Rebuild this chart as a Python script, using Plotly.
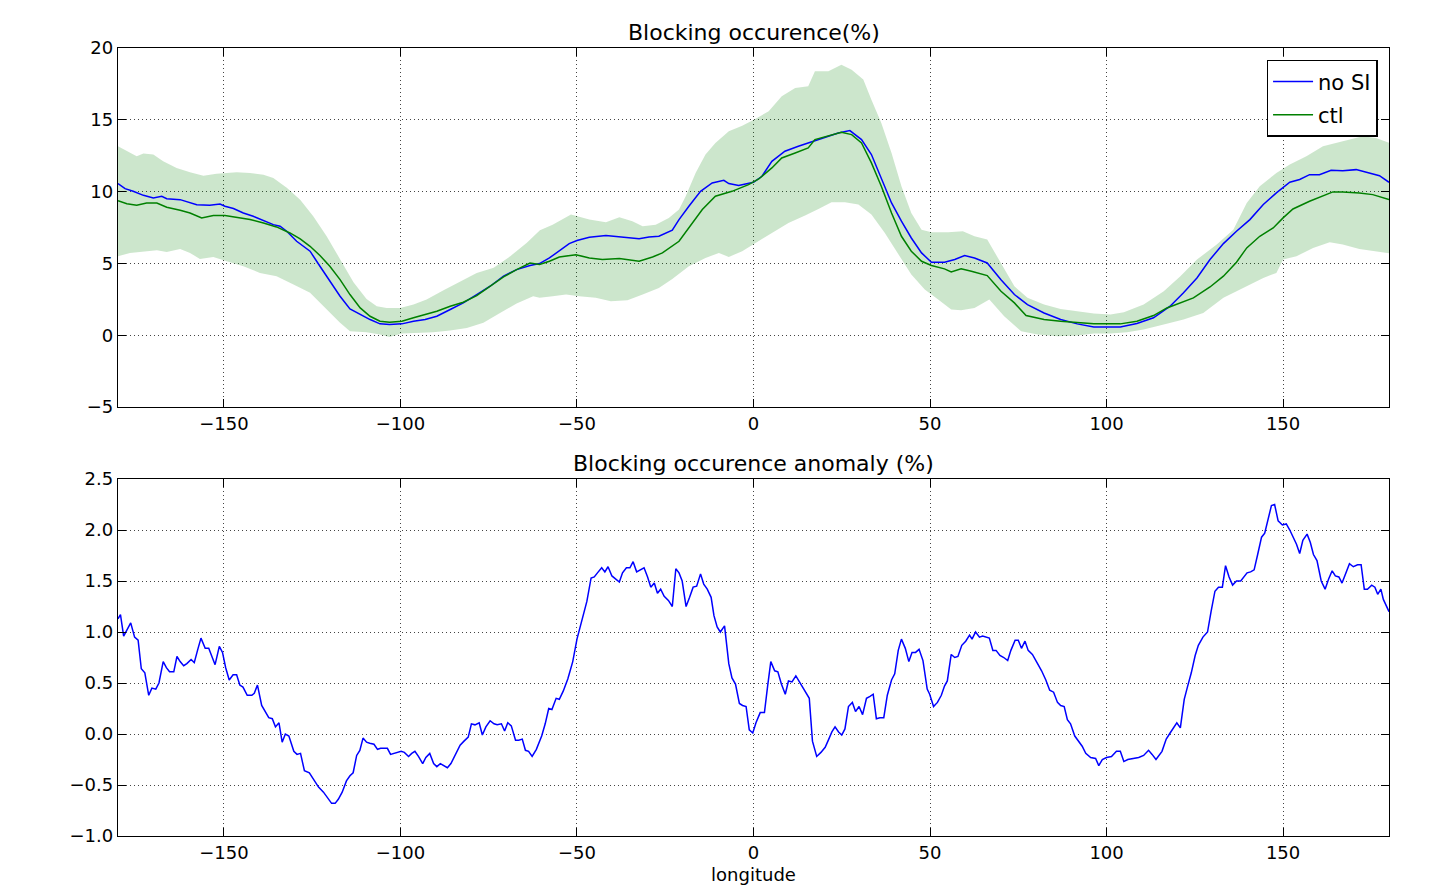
import plotly.graph_objects as go
from plotly.subplots import make_subplots

# ---------------- data: top panel ----------------
noSI_lon = [-180, -178, -175.7, -172.8, -170, -167.6, -166.2, -162.4, -157.7, -154, -151.1, -149.7, -147.3, -144.5,
            -141.7, -138.8, -136, -134.1, -132.2, -129.4, -125.6, -122.8, -120, -117.1, -114.3, -111.4, -108.6,
            -105.8, -103.1, -99.6, -96.3, -93, -89.7, -85.9, -82.2, -78.4, -74.6, -70.8, -67.1, -63.3, -60.6,
            -57.8, -55, -52.2, -50, -46.5, -41.8, -37.1, -32.4, -29.6, -26.8, -23, -21.1, -18.3, -15, -11.7,
            -8.4, -7, -4.2, 0, 2.4, 5.2, 8.9, 12.7, 16.4, 20.3, 24, 27.3, 30.6, 33.4, 36.2, 39.1, 41.9, 44.7,
            47.6, 50.4, 54.1, 57, 59.8, 62.6, 66.2, 70.1, 73.9, 77.6, 82.3, 87, 91.7, 96.4, 100, 103.9, 108.6,
            113.3, 118, 121.8, 125.6, 129.3, 133.1, 136.8, 140.6, 144.4, 148.1, 151.9, 154.7, 157.5, 160.3,
            163.6, 166.9, 170.7, 174.4, 177.3, 180]
noSI_val = [10.56, 10.21, 10.02, 9.74, 9.56, 9.67, 9.51, 9.44, 9.09, 9.05, 9.14, 8.98, 8.82, 8.51,
            8.28, 8.00, 7.70, 7.59, 7.24, 6.54, 5.85, 4.80, 3.76, 2.71, 1.83, 1.44, 1.09,
            0.79, 0.74, 0.79, 0.97, 1.09, 1.32, 1.79, 2.25, 2.83, 3.41, 4.11, 4.57, 4.85, 4.99,
            5.38, 5.85, 6.38, 6.59, 6.82, 6.94, 6.84, 6.71, 6.84, 6.89, 7.31, 8.05, 8.98, 10.02, 10.60,
            10.79, 10.56, 10.42, 10.65, 11.07, 12.11, 12.81, 13.16, 13.46, 13.74, 14.08, 14.25, 13.62, 12.58,
            10.95, 9.21, 7.94, 6.77, 5.73, 5.08, 5.08, 5.27, 5.55, 5.38, 5.03, 3.87, 2.83, 2.13, 1.55, 1.09,
            0.79, 0.58, 0.58, 0.58, 0.81, 1.21, 2.02, 2.95, 3.99, 5.27, 6.38, 7.24, 8.05, 9.10, 9.91, 10.65,
            10.84, 11.18, 11.18, 11.48, 11.46, 11.53, 11.30, 11.11, 10.65]

ctl_lon = [-180, -177.5, -174.7, -171.9, -169, -166.2, -162.4, -159.6, -156.3, -153, -149.7, -146.4, -142.6,
           -138.8, -135.1, -131.3, -128.4, -125.6, -122.8, -120, -117.1, -114.3, -111.4, -108.6, -105.8,
           -103.1, -99.6, -96.3, -93, -89.7, -85.9, -82.2, -78.4, -74.6, -70.8, -67.1, -63.3, -60.6, -57.8,
           -55, -50.3, -46.5, -42.8, -38, -32.4, -28.6, -25.8, -21.1, -18.3, -14.5, -10.8, -6.1, -1.4, 1.5,
           5.2, 8, 11.8, 15.5, 17.4, 21.2, 24.9, 27.8, 30.6, 33.4, 36.2, 39.1, 41.9, 44.7, 47.6, 50.4, 54.1,
           56, 58.8, 61.7, 66.2, 70.1, 73.9, 77.2, 82.3, 87, 91.7, 96.4, 100, 103.9, 108.6, 113.3, 117.1,
           120.9, 124.6, 129.3, 133.1, 136.8, 139.7, 143.4, 147.2, 150, 152.8, 157.5, 161.3, 164.1, 166.9,
           171.6, 175.4, 180]
ctl_val = [9.37, 9.16, 9.05, 9.21, 9.21, 8.91, 8.70, 8.51, 8.17, 8.33, 8.33, 8.21, 8.05,
           7.82, 7.54, 7.12, 6.71, 6.19, 5.55, 4.80, 3.87, 2.83, 1.90, 1.32, 0.97,
           0.90, 0.97, 1.21, 1.44, 1.67, 2.02, 2.30, 2.76, 3.41, 4.06, 4.57, 5.03, 4.92, 5.15,
           5.45, 5.61, 5.38, 5.27, 5.34, 5.15, 5.45, 5.73, 6.54, 7.47, 8.75, 9.68, 10.02, 10.49, 10.88,
           11.65, 12.34, 12.69, 13.04, 13.62, 13.90, 14.13, 13.97, 13.39, 12.00, 10.37, 8.51, 6.89, 5.85, 5.15,
           4.85, 4.62, 4.41, 4.62, 4.45, 4.15, 3.06, 2.25, 1.37, 1.09, 0.97, 0.86, 0.79, 0.79, 0.79, 0.97,
           1.37, 1.90, 2.25, 2.60, 3.36, 4.11, 5.08, 6.08, 6.89, 7.47, 8.17, 8.79, 9.33, 9.68, 9.98, 9.98,
           9.91, 9.79, 9.45]

band_up_lon = [-180, -177.5, -174.7, -172.8, -170, -167.2, -163.4, -159.6, -155.8, -152.1, -149.2, -146.4,
               -142.6, -138.8, -136, -132.2, -128.4, -124.7, -120.9, -117.1, -113.3, -109.6, -106.7, -103.9,
               -100.1, -96.3, -92.6, -87.8, -83.1, -78.4, -73.6, -68.9, -64.2, -60.5, -56.9, -51.7, -46.5,
               -41.8, -38, -34.3, -31.4, -27.7, -24, -21.1, -19.2, -16.4, -13.6, -10.8, -7, -3.2, 0.5, 4.3, 8,
               11.8, 15.5, 17.4, 21.2, 24.9, 27.8, 31.1, 33.4, 36.2, 39.1, 41.9, 44.7, 47.6, 50.4, 55.1, 59.3,
               62.6, 66.2, 70.1, 73.9, 77.6, 82.3, 87, 91.7, 96.4, 101.1, 104.9, 110.5, 116.2, 120.9, 125.6,
               131.2, 135.9, 139.7, 143.4, 148.1, 151.9, 156.6, 161.3, 166.9, 172.6, 176.3, 180]
band_up_val = [13.16, 12.85, 12.46, 12.65, 12.58, 12.11, 11.65, 11.35, 11.11, 11.25, 11.30, 11.35,
               11.30, 11.18, 10.95, 10.26, 9.44, 8.28, 6.89, 5.27, 3.69, 2.53, 2.02, 1.90,
               1.90, 2.13, 2.48, 3.13, 3.76, 4.34, 4.69, 5.50, 6.43, 7.31, 7.70, 8.40, 8.05,
               7.87, 8.21, 7.94, 7.59, 7.70, 8.17, 8.75, 9.68, 11.30, 12.58, 13.39, 14.20, 14.59, 15.06, 15.59,
               16.64, 17.22, 17.33, 18.38, 18.38, 18.84, 18.49, 17.80, 16.40, 14.78, 12.69, 10.37, 8.51, 7.35,
               7.17, 7.17, 7.24, 6.89, 6.66, 5.03, 3.41, 2.60, 2.13, 1.83, 1.67, 1.51, 1.44, 1.60, 2.13, 3.06,
               4.11, 5.27, 6.31, 7.35, 9.21, 10.37, 11.30, 11.88, 12.46, 13.16, 13.50, 13.85, 13.74, 13.40]

band_lo_lon = [-180, -176.6, -172.8, -169, -166.2, -162.4, -159.6, -156.8, -153, -149.2, -144.5, -139.8,
               -135.1, -130.3, -125.6, -120.9, -117.1, -114.3, -109.6, -105.8, -103.1, -99.6, -95.4, -90.7,
               -85.9, -81.2, -76.5, -71.8, -67.1, -62.4, -60.6, -56.9, -53.1, -49.4, -44.7, -40.4, -35.7,
               -31.4, -26.8, -23, -18.3, -13.6, -9.8, -7, -3.2, 0.5, 5.2, 9.9, 14.6, 18.4, 22.1, 25.9, 29.7,
               33.4, 37.2, 41, 44.7, 48.5, 52.3, 56, 58.8, 62.6, 66.8, 71, 75.8, 80.5, 86.1, 91.7, 96.4, 101.1,
               105.8, 110.5, 116.2, 121.8, 127.4, 133.1, 138.7, 144.4, 148.1, 150, 153.8, 158.5, 163.2, 166.9,
               171.6, 176.3, 180]
band_lo_val = [5.50, 5.73, 5.85, 5.92, 5.80, 6.01, 5.73, 5.31, 5.45, 5.15, 4.80, 4.34,
               4.11, 3.53, 2.95, 1.79, 0.86, 0.28, 0.21, 0.05, -0.12, 0.12, 0.16, 0.21,
               0.32, 0.51, 0.86, 1.55, 2.20, 2.71, 2.60, 2.71, 2.83, 2.71, 2.60, 2.37, 2.44,
               2.83, 3.29, 3.92, 4.80, 5.38, 5.73, 5.45, 5.85, 6.43, 7.12, 7.82, 8.33, 8.79, 9.26, 9.26, 9.10,
               8.40, 7.12, 5.61, 4.22, 3.18, 2.48, 1.79, 1.74, 1.90, 2.48, 1.32, 0.28, 0.05, -0.07, -0.02, 0.12,
               0.12, 0.21, 0.39, 0.74, 1.09, 1.55, 2.60, 3.29, 3.99, 4.34, 5.27, 5.50, 6.08, 6.47, 6.31,
               6.01, 5.85, 5.70]

# ---------------- data: bottom panel (anomaly) ----------------
anom_lon = [-180, -179.3, -178.4, -176.4, -175.3, -174.3, -173.4, -172.4, -171.3, -170.4, -169.3, -168.4,
            -167.2, -166.3, -165.4, -164.2, -163.3, -162.4, -161.4, -160.5, -159.3, -158.4, -157.4, -156.5,
            -155.3, -154.3, -153.4, -152.5, -151.3, -150.4, -149.5, -148.5, -147.4, -146.4, -145.5, -144.6,
            -143.4, -142.1, -141.4, -140.5, -139.3, -138.2, -137.3, -136.3, -135.4, -134.4, -133.5, -132.6,
            -131.6, -130.2, -129.3, -128.3, -127.2, -125.8, -124.6, -123.2, -121.8, -120.4, -119.5, -118.5,
            -117.6, -116.5, -115.3, -114.3, -113.4, -112.4, -111.5, -110.6, -109.6, -108.7, -107.5, -106.5,
            -105.6, -104.7, -103.7, -102.8, -101.7, -100.8, -99.8, -98.9, -97.7, -96.8, -95.9, -94.9, -93.7,
            -92.8, -91.7, -90.6, -89.7, -88.7, -87.6, -86.7, -85.7, -84.3, -83.1, -82.0, -80.8, -79.9, -78.9,
            -77.7, -76.8, -75.8, -74.6, -73.5, -72.6, -71.4, -70.5, -69.6, -68.6, -67.4, -66.5, -65.5, -64.6,
            -63.7, -62.7, -61.5, -60.0, -59.0, -58.0, -57.1, -55.9, -55.0, -53.9, -52.6, -51.2, -50.0, -48.6,
            -47.2, -46.0, -45.1, -44.2, -43.0, -42.1, -41.2, -40.1, -39.0, -38.0, -37.1, -36.0, -35.0, -34.1,
            -33.1, -31.9, -31.0, -30.0, -29.1, -28.1, -27.2, -26.3, -25.3, -24.1, -23.0, -22.0, -21.1, -20.2,
            -19.1, -18.1, -17.1, -16.1, -15.0, -14.1, -13.1, -12.0, -11.2, -10.3, -9.4, -8.2, -7.0, -6.1,
            -5.1, -4.0, -3.1, -2.1, -1.2, -0.2, 0.7, 1.9, 3.1, 4.0, 4.9, 6.0, 6.9, 7.9, 9.0, 9.9, 10.9, 12.0,
            13.1, 14.2, 15.8, 16.7, 17.9, 19.1, 20.3, 21.2, 22.2, 23.1, 24.1, 25.0, 25.9, 26.9, 28.0, 28.9,
            29.9, 30.9, 32.0, 33.0, 33.9, 34.8, 35.8, 36.9, 37.9, 39.1, 40.0, 41.0, 41.9, 43.0, 44.0, 44.9,
            45.9, 46.9, 48.0, 49.2, 49.9, 51.0, 52.1, 53.2, 54.1, 54.9, 56.0, 57.0, 57.9, 59.0, 60.1, 61.2,
            61.9, 62.9, 64.0, 64.9, 66.8, 67.8, 68.7, 69.8, 70.9, 72.0, 72.9, 74.1, 75.0, 75.9, 76.9, 77.8,
            79.0, 80.3, 81.6, 82.8, 83.9, 85.0, 86.1, 87.0, 88.0, 88.9, 89.8, 91.0, 92.2, 93.1, 94.1, 95.5,
            96.9, 97.8, 98.8, 100.0, 101.4, 102.8, 103.9, 104.9, 106.0, 107.7, 109.1, 110.5, 111.9, 112.9,
            114.0, 115.7, 116.9, 118.0, 119.0, 119.9, 120.9, 122.0, 122.9, 124.0, 125.1, 126.0, 127.3, 128.6,
            129.6, 130.7, 131.7, 132.8, 133.7, 134.7, 135.7, 136.8, 138.0, 138.9, 139.8, 140.8, 141.8, 142.8,
            143.9, 144.8, 145.8, 146.7, 147.6, 148.6, 149.8, 150.9, 151.9, 152.8, 153.8, 154.7, 155.6, 156.8,
            157.7, 158.6, 159.6, 160.8, 161.9, 162.9, 163.9, 164.8, 165.8, 166.7, 167.9, 168.8, 169.9, 171.1,
            172.1, 173.0, 173.9, 175.1, 176.0, 176.8, 177.7, 178.4, 180]
anom_val = [1.13, 1.17, 0.96, 1.09, 0.95, 0.92, 0.64, 0.60, 0.38, 0.45, 0.44, 0.50,
            0.71, 0.65, 0.61, 0.61, 0.76, 0.71, 0.67, 0.69, 0.73, 0.70, 0.83, 0.94,
            0.84, 0.84, 0.76, 0.68, 0.86, 0.80, 0.65, 0.53, 0.58, 0.58, 0.48, 0.46,
            0.38, 0.38, 0.40, 0.48, 0.28, 0.21, 0.16, 0.15, 0.07, 0.11, -0.08, 0.00,
            -0.02, -0.17, -0.20, -0.19, -0.36, -0.38, -0.44, -0.52, -0.57, -0.64, -0.68, -0.68,
            -0.64, -0.57, -0.46, -0.41, -0.38, -0.21, -0.16, -0.04, -0.08, -0.09, -0.10, -0.15,
            -0.14, -0.14, -0.14, -0.20, -0.19, -0.18, -0.17, -0.18, -0.22, -0.19, -0.17, -0.22, -0.29,
            -0.23, -0.19, -0.29, -0.32, -0.29, -0.31, -0.33, -0.29, -0.20, -0.11, -0.07, -0.03, 0.10, 0.09,
            0.11, -0.01, 0.07, 0.13, 0.10, 0.09, 0.10, 0.03, 0.11, 0.08, -0.06, -0.06, -0.05, -0.16,
            -0.17, -0.22, -0.15, -0.02, 0.10, 0.25, 0.24, 0.35, 0.34, 0.42, 0.54, 0.71, 0.93, 1.11,
            1.30, 1.53, 1.54, 1.58, 1.63, 1.59, 1.64, 1.55, 1.52, 1.49, 1.58, 1.63, 1.63, 1.69,
            1.59, 1.61, 1.63, 1.54, 1.44, 1.48, 1.38, 1.42, 1.35, 1.31, 1.25, 1.62, 1.58, 1.50,
            1.25, 1.34, 1.44, 1.45, 1.57, 1.47, 1.42, 1.34, 1.16, 1.05, 1.00, 1.06, 0.69, 0.55,
            0.49, 0.30, 0.28, 0.27, 0.04, 0.01, 0.11, 0.21, 0.21, 0.47, 0.71, 0.62, 0.61, 0.49, 0.39, 0.52, 0.51, 0.57,
            0.51, 0.44, 0.35, -0.07, -0.22, -0.18, -0.13, -0.06, 0.02, 0.07, 0.02, -0.01, 0.05, 0.27, 0.31, 0.22,
            0.27, 0.19, 0.35, 0.37, 0.39, 0.15, 0.16, 0.16, 0.38, 0.53, 0.59, 0.82, 0.93, 0.84, 0.71, 0.80,
            0.80, 0.83, 0.72, 0.44, 0.39, 0.27, 0.31, 0.38, 0.47, 0.52, 0.78, 0.75, 0.76, 0.87, 0.91, 0.97,
            0.93, 1.00, 0.95, 0.96, 0.94, 0.82, 0.82, 0.77, 0.75, 0.72, 0.82, 0.92, 0.92, 0.84, 0.91, 0.82,
            0.78, 0.70, 0.62, 0.53, 0.43, 0.41, 0.31, 0.28, 0.27, 0.14, 0.10, -0.02, -0.08, -0.12, -0.19, -0.23,
            -0.24, -0.31, -0.25, -0.23, -0.22, -0.17, -0.17, -0.27, -0.25, -0.24, -0.23, -0.21, -0.16, -0.20,
            -0.25, -0.17, -0.05, 0.01, 0.06, 0.11, 0.06, 0.34, 0.46, 0.60, 0.77, 0.87, 0.95, 1.00,
            1.20, 1.40, 1.44, 1.44, 1.65, 1.54, 1.46, 1.50, 1.50, 1.54, 1.58, 1.59, 1.61, 1.76,
            1.93, 1.97, 2.11, 2.24, 2.25, 2.09, 2.05, 2.06, 2.00, 1.94, 1.86, 1.77, 1.90, 1.96,
            1.88, 1.76, 1.70, 1.50, 1.42, 1.52, 1.60, 1.55, 1.54, 1.48, 1.58, 1.67, 1.64, 1.66,
            1.66, 1.42, 1.42, 1.46, 1.44, 1.37, 1.42, 1.32, 1.20]

x_ticks = [-150, -100, -50, 0, 50, 100, 150]
top_yticks = [-5, 0, 5, 10, 15, 20]
bot_yticks = [-1.0, -0.5, 0.0, 0.5, 1.0, 1.5, 2.0, 2.5]

TITLE_TOP = "Blocking occurence(%)"
TITLE_BOT = "Blocking occurence anomaly (%)"
XLABEL = "longitude"

# ---------------- figure ----------------
FONT = "DejaVu Sans"
W, H = 1430, 885
ML, MR, MT, MB = 118, 41, 48, 49
top_dom = [0.5444, 1.0]
bot_dom = [0.0, 0.4530]

fig = make_subplots(rows=2, cols=1)

band_x = band_up_lon + band_lo_lon[::-1]
band_y = band_up_val + band_lo_val[::-1]
fig.add_trace(go.Scatter(x=band_x, y=band_y, fill="toself", mode="lines",
                         line=dict(width=0), fillcolor="rgba(0,128,0,0.2)",
                         showlegend=False, hoverinfo="skip"), row=1, col=1)
fig.add_trace(go.Scatter(x=noSI_lon, y=noSI_val, mode="lines", name="no SI", legendgroup="a",
                         line=dict(color="#0000ff", width=1.5)), row=1, col=1)
fig.add_trace(go.Scatter(x=ctl_lon, y=ctl_val, mode="lines", name="ctl", legendgroup="b",
                         line=dict(color="#008000", width=1.5)), row=1, col=1)
fig.add_trace(go.Scatter(x=anom_lon, y=anom_val, mode="lines", showlegend=False,
                         line=dict(color="#0000ff", width=1.5)), row=2, col=1)

axis_common = dict(showline=True, linecolor="black", linewidth=1.3, mirror="allticks",
                   ticks="inside", ticklen=8, tickwidth=1, tickcolor="black",
                   showgrid=True, gridcolor="#444444", gridwidth=1, griddash="1px,3px",
                   zeroline=False, automargin=False,
                   tickfont=dict(family=FONT, size=18, color="black"))

fig.update_xaxes(range=[-180, 180], tickvals=x_ticks, **axis_common)
fig.update_layout(
    xaxis=dict(domain=[0, 1], anchor="y"),
    yaxis=dict(domain=top_dom, range=[-5, 20], tickvals=top_yticks, **axis_common),
    xaxis2=dict(domain=[0, 1], anchor="y2",
                title=dict(text=XLABEL, standoff=10, font=dict(family=FONT, size=18, color="black"))),
    yaxis2=dict(domain=bot_dom, range=[-1.0, 2.5], tickvals=bot_yticks, tickformat=".1f", **axis_common),
)

fig.add_annotation(text=TITLE_TOP, xref="paper", yref="paper", x=0.5, y=top_dom[1],
                   xanchor="center", yanchor="bottom", yshift=1, showarrow=False,
                   font=dict(family=FONT, size=22, color="black"))
fig.add_annotation(text=TITLE_BOT, xref="paper", yref="paper", x=0.5, y=bot_dom[1],
                   xanchor="center", yanchor="bottom", yshift=1, showarrow=False,
                   font=dict(family=FONT, size=22, color="black"))

fig.update_layout(
    width=W, height=H,
    margin=dict(l=ML, r=MR, t=MT, b=MB, autoexpand=False),
    paper_bgcolor="white", plot_bgcolor="white",
    font=dict(family=FONT, color="black"),
    legend=dict(x=0.991, y=0.985, xanchor="right", yanchor="top",
                bordercolor="black", borderwidth=1.5, bgcolor="white",
                font=dict(family=FONT, size=21, color="black"),
                itemwidth=40, tracegroupgap=3),
)

fig.write_html("out.html")
